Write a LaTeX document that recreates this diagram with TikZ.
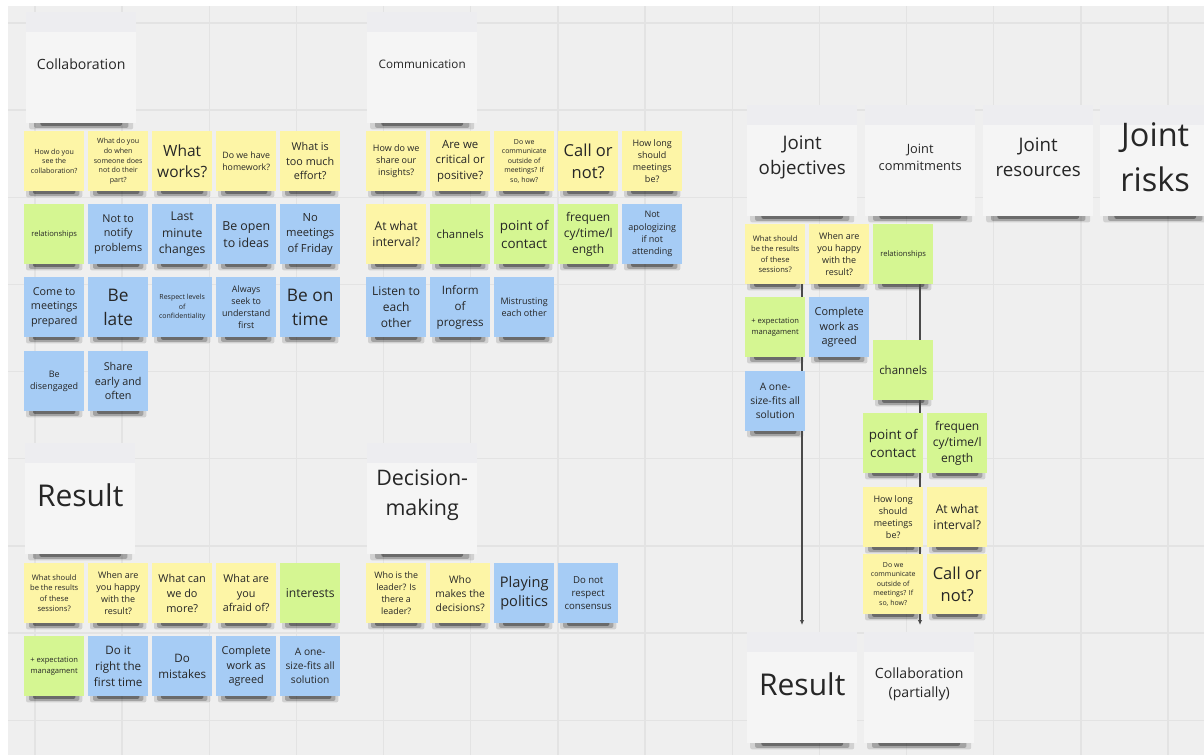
\documentclass[tikz,border=0pt]{standalone}
\usepackage{fontspec}
\setmainfont{Open Sans}
\usetikzlibrary{arrows.meta}
\definecolor{ylw}{HTML}{FDF5A6}
\definecolor{grn}{HTML}{D5F692}
\definecolor{blu}{HTML}{A6CCF5}
\definecolor{hdr}{HTML}{F5F5F5}
\definecolor{hdrtop}{HTML}{EDEDF0}
\definecolor{board}{HTML}{EFEFEF}
\definecolor{gridc}{HTML}{E3E3E3}
\definecolor{ink}{HTML}{262626}
\definecolor{conn}{HTML}{4A4A4A}
\pgfdeclarelayer{boardlayer}
\pgfdeclarelayer{shd}
\pgfsetlayers{boardlayer,shd,main}
\newcommand\fs[1]{\fontsize{#1}{#1}\selectfont\baselineskip=1.36\dimexpr#1pt\relax}
\tikzset{
  stkbox/.style={anchor=north west, minimum width=60pt, minimum height=60pt, inner sep=0pt,
    align=center, text=ink},
  hdrbox/.style={anchor=north west, minimum width=110pt, minimum height=111pt, inner sep=0pt,
    fill=hdr,
    path picture={\fill[hdrtop] (path picture bounding box.north west) rectangle ([yshift=-20pt]path picture bounding box.north east);}},
  hdrtext/.style={align=center, text=ink, inner sep=0pt, yshift=3.5pt},
  shadowpiece/.style={fill=black, rounded corners=2pt},
  gridline/.style={draw=gridc, line width=1.4pt},
  connline/.style={draw=conn, line width=1.2pt, -{Latex[length=5pt,width=4.5pt]}, shorten >=7pt},
}
% soft shadow under a node: #1 name, #2 scale of insets
\newcommand\shadowunder[2]{%
  \begin{pgfonlayer}{shd}
    \fill[shadowpiece,opacity=.12] ([xshift=#2*2pt,yshift=3pt]#1.south west) rectangle ([xshift=-#2*2pt,yshift=-6pt]#1.south east);
    \fill[shadowpiece,opacity=.22] ([xshift=#2*5pt,yshift=3pt]#1.south west) rectangle ([xshift=-#2*5pt,yshift=-4.5pt]#1.south east);
    \fill[shadowpiece,opacity=.35] ([xshift=#2*9pt,yshift=3pt]#1.south west) rectangle ([xshift=-#2*9pt,yshift=-2.5pt]#1.south east);
  \end{pgfonlayer}}
\newcommand\stk[6]{\node[stkbox,fill=#4,font=\fs{#5}] (#1) at (#2,#3) {#6};\shadowunder{#1}{1}}
\newcommand\hdrnote[5]{\node[hdrbox,label={[hdrtext,font=\fs{#4}]center:#5}] (#1) at (#2,#3) {};\shadowunder{#1}{1.6}}
\begin{document}
\begin{tikzpicture}[x=1pt,y=-1pt]
\useasboundingbox (0,0) rectangle (1204,755);
\begin{pgfonlayer}{boardlayer}
\fill[white] (0,0) rectangle (1204,755);
\fill[board] (8,6) rectangle (1204,755);
\foreach \i in {0,...,13} \draw[gridline] ({35+87.15*\i},6) -- ({35+87.15*\i},755);
\foreach \j in {0,...,8} \draw[gridline] (8,{23+87.15*\j}) -- (1204,{23+87.15*\j});
\end{pgfonlayer}

% ---------- Collaboration ----------
\hdrnote{hcol}{26}{12}{14.1}{Collaboration}
\stk{c11}{24}{131}{ylw}{7.1}{How do you\\see the\\collaboration?}
\stk{c12}{88}{131}{ylw}{7.1}{What do you\\do when\\someone does\\not do their\\part?}
\stk{c13}{152}{131}{ylw}{15.5}{What\\works?}
\stk{c14}{216}{131}{ylw}{8.8}{Do we have\\homework?}
\stk{c15}{280}{131}{ylw}{10.8}{What is\\too much\\effort?}
\stk{c21}{24}{204}{grn}{7.6}{relationships}
\stk{c22}{88}{204}{blu}{10.8}{Not to\\notify\\problems}
\stk{c23}{152}{204}{blu}{12.1}{Last\\minute\\changes}
\stk{c24}{216}{204}{blu}{12.4}{Be open\\to ideas}
\stk{c25}{280}{204}{blu}{11.2}{No\\meetings\\of Friday}
\stk{c31}{24}{277}{blu}{10.8}{Come to\\meetings\\prepared}
\stk{c32}{88}{277}{blu}{17.3}{Be\\late}
\stk{c33}{152}{277}{blu}{7.0}{Respect levels\\of\\confidentiality}
\stk{c34}{216}{277}{blu}{8.9}{Always\\seek to\\understand\\first}
\stk{c35}{280}{277}{blu}{17.3}{Be on\\time}
\stk{c41}{24}{351}{blu}{9.0}{Be\\disengaged}
\stk{c42}{88}{351}{blu}{10.8}{Share\\early and\\often}

% ---------- Communication ----------
\hdrnote{hcom}{367}{12}{11.7}{Communication}
\stk{m11}{366}{131}{ylw}{9.0}{How do we\\share our\\insights?}
\stk{m12}{430}{131}{ylw}{11.4}{Are we\\critical or\\positive?}
\stk{m13}{494}{131}{ylw}{7.0}{Do we\\communicate\\outside of\\meetings? If\\so, how?}
\stk{m14}{558}{131}{ylw}{16.5}{Call or\\not?}
\stk{m15}{622}{131}{ylw}{9.0}{How long\\should\\meetings\\be?}
\stk{m21}{366}{204}{ylw}{12.1}{At what\\interval?}
\stk{m22}{430}{204}{grn}{11.3}{channels}
\stk{m23}{494}{204}{grn}{13.4}{point of\\contact}
\stk{m24}{558}{204}{grn}{12.0}{frequen\\cy/time/l\\ength}
\stk{m25}{622}{204}{blu}{9.0}{Not\\apologizing\\if not\\attending}
\stk{m31}{366}{277}{blu}{12.0}{Listen to\\each\\other}
\stk{m32}{430}{277}{blu}{11.6}{Inform\\of\\progress}
\stk{m33}{494}{277}{blu}{9.0}{Mistrusting\\each other}

% ---------- Result ----------
\hdrnote{hres}{25}{443}{30}{Result}
\stk{r11}{24}{563}{ylw}{7.6}{What should\\be the results\\of these\\sessions?}
\stk{r12}{88}{563}{ylw}{9.0}{When are\\you happy\\with the\\result?}
\stk{r13}{152}{563}{ylw}{10.9}{What can\\we do\\more?}
\stk{r14}{216}{563}{ylw}{10.8}{What are\\you\\afraid of?}
\stk{r15}{280}{563}{grn}{12.1}{interests}
\stk{r21}{24}{636}{grn}{7.6}{+ expectation\\managament}
\stk{r22}{88}{636}{blu}{11.6}{Do it\\right the\\first time}
\stk{r23}{152}{636}{blu}{11.6}{Do\\mistakes}
\stk{r24}{216}{636}{blu}{10.9}{Complete\\work as\\agreed}
\stk{r25}{280}{636}{blu}{10.2}{A one-\\size-fits all\\solution}

% ---------- Decision-making ----------
\hdrnote{hdec}{367}{443}{21.4}{Decision-\\making}
\stk{d1}{366}{563}{ylw}{8.9}{Who is the\\leader? Is\\there a\\leader?}
\stk{d2}{430}{563}{ylw}{10.3}{Who\\makes the\\decisions?}
\stk{d3}{494}{563}{blu}{14.6}{Playing\\politics}
\stk{d4}{558}{563}{blu}{9.6}{Do not\\respect\\consensus}

% ---------- Joint ----------
\hdrnote{hjo}{747}{105}{18.7}{Joint\\objectives}
\hdrnote{hjc}{865}{105}{12.8}{Joint\\commitments}
\hdrnote{hjr}{983}{105}{18.7}{Joint\\resources}
\hdrnote{hjk}{1100}{105}{32.5}{Joint\\risks}
\stk{j1}{745}{224}{ylw}{7.6}{What should\\be the results\\of these\\sessions?}
\stk{j2}{809}{224}{ylw}{9.0}{When are\\you happy\\with the\\result?}
\stk{j3}{873}{224}{grn}{7.6}{relationships}
\stk{j4}{745}{297}{grn}{7.6}{+ expectation\\managament}
\stk{j5}{809}{297}{blu}{10.9}{Complete\\work as\\agreed}
\stk{j6}{873}{340}{grn}{11.5}{channels}
\stk{j7}{745}{371}{blu}{10.3}{A one-\\size-fits all\\solution}
\stk{j8}{863}{413}{grn}{13.4}{point of\\contact}
\stk{j9}{927}{413}{grn}{12.0}{frequen\\cy/time/l\\ength}
\stk{j10}{863}{487}{ylw}{9.0}{How long\\should\\meetings\\be?}
\stk{j11}{927}{487}{ylw}{12.1}{At what\\interval?}
\stk{j12}{863}{554}{ylw}{7.0}{Do we\\communicate\\outside of\\meetings? If\\so, how?}
\stk{j13}{927}{554}{ylw}{16.5}{Call or\\not?}
\hdrnote{hresR}{747}{632}{30}{Result}
\hdrnote{hcolP}{864}{632}{14.1}{Collaboration\\(partially)}

% ---------- connectors ----------
\coordinate (colL) at (802,0);
\coordinate (colR) at (920,0);
\begin{pgfonlayer}{shd}
\draw[connline] (j1.south -| colL) -- (hresR.north -| colL);
\draw[connline] (j3.south -| colR) -- (hcolP.north -| colR);
\end{pgfonlayer}
\end{tikzpicture}
\end{document}
